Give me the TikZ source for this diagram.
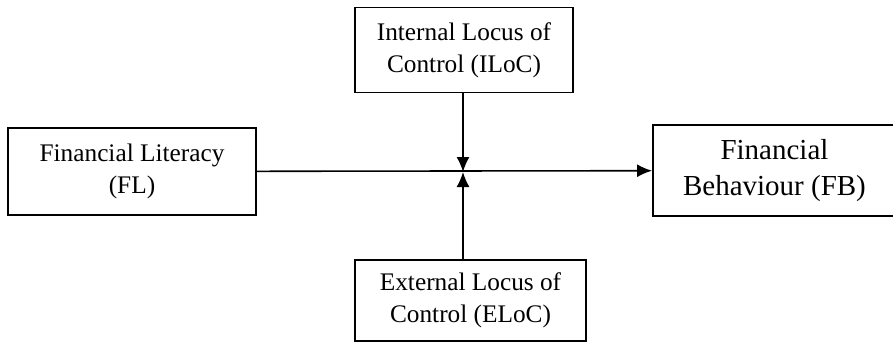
\documentclass[tikz,border=0pt]{standalone}
\usepackage{fontspec}
\setmainfont{Liberation Serif}
\usetikzlibrary{arrows.meta}

\tikzset{
  varbox/.style={draw, line width=1.1pt, align=center, inner sep=0pt,
    font=\fontsize{14.4}{18}\selectfont},
}

\begin{document}
\begin{tikzpicture}[x=0.02cm, y=-0.02cm, >={Latex[length=3mm,width=2.6mm]}]
\useasboundingbox (0,0) rectangle (893,342);
\node[varbox, minimum width=248*0.02cm, minimum height=87*0.02cm] (fl) at (132,171.5) {Financial Literacy\\(FL)};
\node[varbox, minimum width=243*0.02cm, minimum height=91*0.02cm,
  font=\fontsize{16.5}{20}\selectfont] (fb) at (774.5,170.5) {Financial\\Behaviour (FB)};
\node[varbox, minimum width=218*0.02cm, minimum height=85*0.02cm] (iloc) at (464,50) {Internal Locus of\\Control (ILoC)};
\node[varbox, minimum width=231*0.02cm, minimum height=81*0.02cm] (eloc) at (470.5,300.5) {External Locus of\\Control (ELoC)};
\coordinate (j) at (463,172);

\path[draw,line width=0.9pt,->] (fl) -- (fb);
\path[draw,line width=0.9pt,->] (iloc.south -| j) -- (j);
\path[draw,line width=0.9pt,->] (eloc.north -| j) -- (j);
\end{tikzpicture}
\end{document}
